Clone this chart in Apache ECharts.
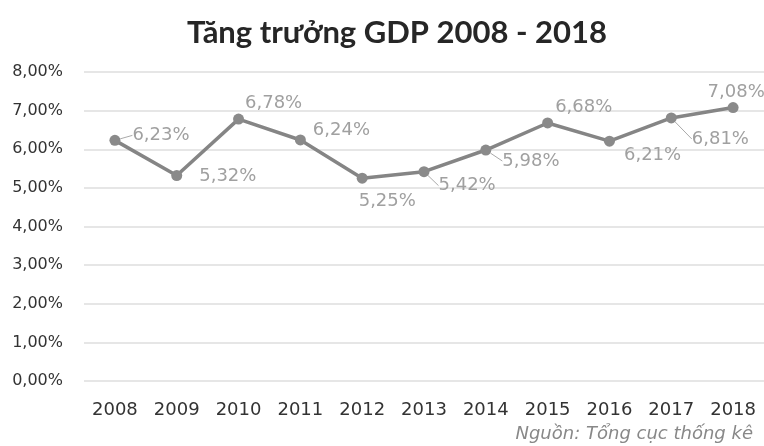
<!DOCTYPE html>
<html><head><meta charset="utf-8">
<script src="https://cdn.jsdelivr.net/npm/echarts@6/dist/echarts.min.js"></script>
<style>html,body{margin:0;padding:0;background:#fff}#c{width:764px;height:446px}</style>
</head><body><div id="c"></div>
<script>
const years = ['2008','2009','2010','2011','2012','2013','2014','2015','2016','2017','2018'];
const gdpGrowth = [6.23, 5.32, 6.78, 6.24, 5.25, 5.42, 5.98, 6.68, 6.21, 6.81, 7.08];
const yTicks = [0,1,2,3,4,5,6,7,8];
const titleText = 'Tăng trưởng GDP 2008 - 2018';
const sourceText = 'Nguồn: Tổng cục thống kê';

// label placement (styling only)
const labelShift = [[7,-5],[12,1],[-4,-16],[2,-10],[-14,23],[4,14],[6,11],[-3,-16],[4,14],[10,21],[-36,-15]];
const withLeader = [0,5,6,9];

const fmt = v => v.toFixed(2).replace('.', ',') + '%';

const chart = echarts.init(document.getElementById('c'));
chart.setOption({
  animation: false,
  backgroundColor: '#fff',
  title: {
    text: titleText, left: 392, textAlign: 'center', top: 12,
    textStyle: {fontFamily: 'Lato', fontSize: 31, fontWeight: 'bold', color: '#262626'}
  },
  graphic: [{
    type: 'text', right: 11, top: 425,
    style: {text: sourceText, fontFamily: 'DejaVu Sans', fontStyle: 'italic', fontSize: 18, fill: '#888'}
  }],
  grid: {left: 84, right: 0, top: 72, bottom: 65},
  xAxis: {
    type: 'category', data: years, boundaryGap: true,
    axisLine: {show: false}, axisTick: {show: false},
    axisLabel: {fontFamily: 'DejaVu Sans', fontSize: 18, color: '#333', margin: 20}
  },
  yAxis: {
    type: 'value', min: 0, max: 8, interval: 1,
    axisLine: {show: false}, axisTick: {show: false},
    splitLine: {lineStyle: {color: '#dedede', width: 1.5}},
    axisLabel: {fontFamily: 'DejaVu Sans', fontSize: 16, color: '#333', margin: 21,
      formatter: v => yTicks.includes(v) ? fmt(v) : ''}
  },
  series: [{
    type: 'line',
    data: gdpGrowth.map((v, i) => ({
      value: v,
      labelLine: {show: withLeader.includes(i), lineStyle: {color: '#aaa', width: 1}}
    })),
    symbol: 'circle', symbolSize: 11,
    lineStyle: {color: '#858585', width: 3.5},
    itemStyle: {color: '#8a8a8a'},
    label: {show: true, position: 'right', distance: 5,
      fontFamily: 'DejaVu Sans', fontSize: 18, color: '#a0a0a0',
      formatter: p => fmt(p.value)},
    labelLayout: p => ({dx: labelShift[p.dataIndex][0], dy: labelShift[p.dataIndex][1]})
  }]
});
</script></body></html>
